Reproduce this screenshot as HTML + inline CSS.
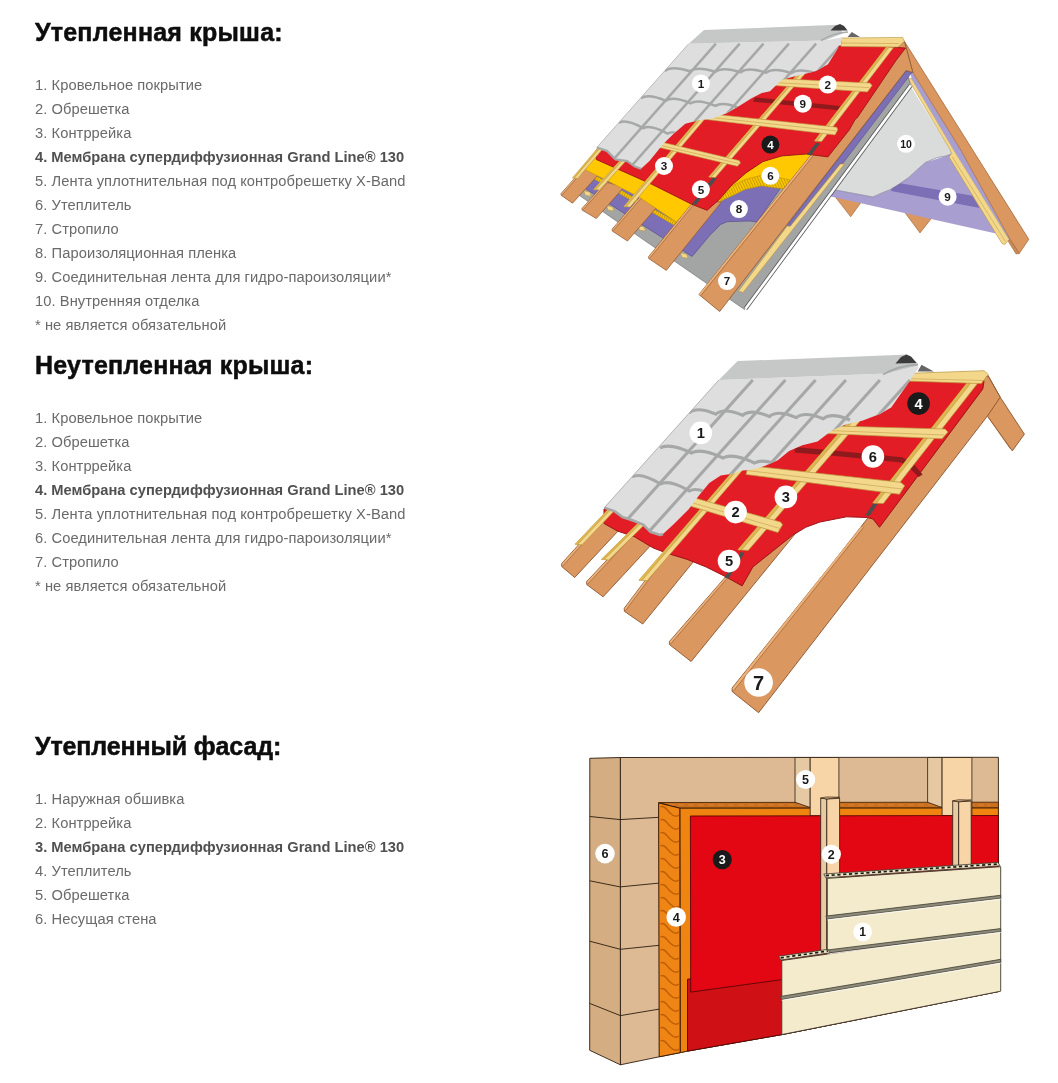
<!DOCTYPE html>
<html><head><meta charset="utf-8"><style>
html,body{margin:0;padding:0;background:#fff;}
body{width:1058px;height:1083px;position:relative;overflow:hidden;font-family:"Liberation Sans",sans-serif;}
.h{position:absolute;left:35px;font-weight:bold;font-size:25px;line-height:30px;color:#0d0d0d;white-space:nowrap;-webkit-text-stroke:0.5px #0d0d0d;will-change:transform;}
.l{position:absolute;left:35px;font-size:14.7px;line-height:24px;color:#6a6a6a;letter-spacing:0.07px;white-space:nowrap;will-change:transform;}
.l b{color:#505050;letter-spacing:0;}
svg{position:absolute;left:0;top:0;}
svg text{font-family:"Liberation Sans",sans-serif;}
</style></head><body>
<div class="h" style="top:17px;letter-spacing:0.22px">Утепленная крыша:</div>
<div class="l" style="top:73px"><div>1. Кровельное покрытие</div><div>2. Обрешетка</div><div>3. Контррейка</div><div><b>4. Мембрана супердиффузионная Grand Line® 130</b></div><div>5. Лента уплотнительная под контробрешетку X-Band</div><div>6. Утеплитель</div><div>7. Стропило</div><div>8. Пароизоляционная пленка</div><div>9. Соединительная лента для гидро-пароизоляции*</div><div>10. Внутренняя отделка</div><div>* не является обязательной</div></div>

<div class="h" style="top:350px;letter-spacing:0.2px">Неутепленная крыша:</div>
<div class="l" style="top:406px"><div>1. Кровельное покрытие</div><div>2. Обрешетка</div><div>3. Контррейка</div><div><b>4. Мембрана супердиффузионная Grand Line® 130</b></div><div>5. Лента уплотнительная под контробрешетку X-Band</div><div>6. Соединительная лента для гидро-пароизоляции*</div><div>7. Стропило</div><div>* не является обязательной</div></div>

<div class="h" style="top:730.5px;letter-spacing:-0.12px">Утепленный фасад:</div>
<div class="l" style="top:786.5px"><div>1. Наружная обшивка</div><div>2. Контррейка</div><div><b>3. Мембрана супердиффузионная Grand Line® 130</b></div><div>4. Утеплитель</div><div>5. Обрешетка</div><div>6. Несущая стена</div></div>

<svg width="1058" height="1083" viewBox="0 0 1058 1083">
<polygon points="833.0,194.0 862.0,201.0 850.7,216.8" fill="#DA975F" stroke="#9c6236" stroke-width="0.6" stroke-linejoin="round" />
<polygon points="903.0,210.0 933.0,216.5 920.0,232.9" fill="#DA975F" stroke="#9c6236" stroke-width="0.6" stroke-linejoin="round" />
<polygon points="829.8,196.3 835.1,189.9 872.9,197.0 889.5,189.9 908.4,177.7 925.4,162.5 946.2,155.9 953.7,153.1 996.0,233.5 940.0,221.1" fill="#A99ED0" />
<polygon points="893.0,182.0 972.5,195.7 979.6,207.9 891.0,191.0" fill="#7D6FB6" />
<polygon points="910.5,86.0 950.3,150.0 953.7,153.1 946.2,155.9 936.7,157.8 925.4,162.5 917.8,169.1 908.4,177.7 898.9,184.3 889.5,189.9 880.0,193.7 872.9,197.0 835.1,189.9 834.0,191.0" fill="#DADBDB" />
<polyline points="953.7,153.1 946.2,155.9 936.7,157.8 925.4,162.5 917.8,169.1 908.4,177.7 898.9,184.3 889.5,189.9 880.0,193.7 872.9,197.0 835.1,189.9" fill="none" stroke="#6f6f8a" stroke-width="0.6" stroke-linejoin="round"/>
<polygon points="908.0,78.8 911.5,78.5 953.7,150.0 1009.0,239.3 1005.0,244.5 1002.0,243.4 949.0,157.0 951.5,153.6 950.3,150.0" fill="#F3D88C" stroke="#B8923a" stroke-width="0.6" stroke-linejoin="round" />
<polyline points="952.3,157.0 1005.5,241.5" fill="none" stroke="#B8923a" stroke-width="0.5" stroke-linejoin="round"/>
<polygon points="910.6,72.5 912.9,72.5 960.8,150.0 1010.0,239.3 1009.0,239.3 953.7,150.0 911.5,78.5" fill="#A99ED0" />
<polygon points="904.4,41.3 1028.8,239.3 1019.2,253.6 1010.0,239.3 960.8,150.0 912.9,72.5" fill="#DA975F" stroke="#9c6236" stroke-width="0.7" stroke-linejoin="round" />
<polygon points="1010.0,239.3 1019.2,253.6 1016.0,254.0 1008.0,241.0" fill="#C98A55" stroke="#9c6236" stroke-width="0.5" stroke-linejoin="round" />
<polygon points="578.0,194.5 744.5,309.5 910.5,84.5 906.0,70.0 700.0,70.0 590.0,170.0" fill="#A3A4A4" stroke="#6a6a6a" stroke-width="0.6" stroke-linejoin="round" />
<line x1="745.5" y1="308.8" x2="910.8" y2="85.2" stroke="#555" stroke-width="4.2"/>
<line x1="745.5" y1="308.8" x2="910.8" y2="85.2" stroke="#fff" stroke-width="2.6"/>
<polygon points="583.8,190.7 589.8,192.2 591.3,196.2 585.3,195.2" fill="#F3D88C" stroke="#B8923a" stroke-width="0.5" stroke-linejoin="round" />
<polygon points="606.5,205.5 612.5,207.0 614.0,211.0 608.0,210.0" fill="#F3D88C" stroke="#B8923a" stroke-width="0.5" stroke-linejoin="round" />
<polygon points="638.0,225.6 644.0,227.1 645.5,231.1 639.5,230.1" fill="#F3D88C" stroke="#B8923a" stroke-width="0.5" stroke-linejoin="round" />
<polygon points="680.5,252.8 686.5,254.3 688.0,258.3 682.0,257.3" fill="#F3D88C" stroke="#B8923a" stroke-width="0.5" stroke-linejoin="round" />
<polygon points="586.0,189.0 692.0,256.5 698.0,249.4 709.4,235.8 720.7,224.4 727.5,221.6 750.0,221.0 757.0,222.0 800.0,160.0 880.0,75.0 700.0,80.0 586.0,175.0" fill="#7D6FB6" stroke="#4e4386" stroke-width="0.6" stroke-linejoin="round" />
<polygon points="906.1,70.6 912.1,72.3 842.7,163.5 840.5,163.8 790.5,226.5 787.3,225.4" fill="#7D6FB6" stroke="#4e4386" stroke-width="0.5" stroke-linejoin="round" />
<polygon points="840.3,164.0 844.5,164.0 743.0,292.5 738.4,291.2 787.3,226.0 790.3,226.2" fill="#F3D88C" stroke="#B8923a" stroke-width="0.6" stroke-linejoin="round" />
<defs><pattern id="hat1" width="2.4" height="6" patternUnits="userSpaceOnUse" patternTransform="rotate(25)"><rect width="2.4" height="6" fill="#F9C800"/><line x1="0.5" y1="0" x2="0.5" y2="6" stroke="#C79600" stroke-width="0.9"/></pattern><pattern id="hat2" width="2.6" height="6" patternUnits="userSpaceOnUse" patternTransform="rotate(-25)"><rect width="2.6" height="6" fill="#F9C800"/><line x1="0.5" y1="0" x2="0.5" y2="6" stroke="#C79600" stroke-width="0.9"/></pattern></defs>
<polygon points="586.0,170.0 676.3,222.0 676.3,226.5 587.2,175.0" fill="url(#hat1)" stroke="#B58A00" stroke-width="0.4" stroke-linejoin="round" />
<polygon points="561.1,193.5 561.1,195.3 572.5,203.2 600.0,173.0 588.0,163.0" fill="#DA975F" stroke="#8a5530" stroke-width="0.7" stroke-linejoin="round" />
<polygon points="561.4,193.7 588.2,163.0 590.0,163.0 562.0,195.0" fill="#EDB27A" />
<polyline points="562.0,195.0 590.0,163.0" fill="none" stroke="#8a5530" stroke-width="0.6" stroke-linejoin="round"/>
<polygon points="582.1,208.3 582.1,210.1 596.3,218.5 624.0,187.0 606.0,182.0" fill="#DA975F" stroke="#8a5530" stroke-width="0.7" stroke-linejoin="round" />
<polygon points="582.4,208.5 606.2,182.0 608.0,182.0 583.0,209.8" fill="#EDB27A" />
<polyline points="583.0,209.8 608.0,182.0" fill="none" stroke="#8a5530" stroke-width="0.6" stroke-linejoin="round"/>
<polygon points="612.2,229.0 612.2,231.0 627.5,241.0 656.0,208.0 640.0,197.0" fill="#DA975F" stroke="#8a5530" stroke-width="0.7" stroke-linejoin="round" />
<polygon points="612.5,229.2 640.2,197.0 642.2,197.0 613.2,230.7" fill="#EDB27A" />
<polyline points="613.2,230.7 642.2,197.0" fill="none" stroke="#8a5530" stroke-width="0.6" stroke-linejoin="round"/>
<polygon points="586.0,170.0 608.8,181.4 639.4,197.3 676.3,222.0 700.0,200.0 720.7,201.8 729.8,195.0 741.0,190.0 753.4,184.3 772.3,185.2 779.9,188.0 788.0,188.0 800.0,170.0 830.0,130.0 700.0,100.0 590.0,160.0" fill="#FFC800" />
<polyline points="586.0,170.0 608.8,181.4 639.4,197.3 676.3,222.0" fill="none" stroke="#C89A00" stroke-width="0.6" stroke-linejoin="round"/>
<polygon points="720.5,200.0 730.9,186.5 745.0,179.5 761.3,175.3 781.2,178.0 790.0,180.0 790.0,190.0 779.9,188.5 761.3,185.9 745.0,189.5 733.0,195.5 720.3,201.1" fill="url(#hat2)" stroke="#B58A00" stroke-width="0.5" stroke-linejoin="round" />
<polygon points="648.7,256.5 648.7,258.5 666.3,270.4 721.5,202.0 694.0,201.0" fill="#DA975F" stroke="#8a5530" stroke-width="0.7" stroke-linejoin="round" />
<polygon points="649.0,256.7 694.2,201.0 696.4,201.0 649.8,258.2" fill="#EDB27A" />
<polyline points="649.8,258.2 696.4,201.0" fill="none" stroke="#8a5530" stroke-width="0.6" stroke-linejoin="round"/>
<polygon points="698.9,294.5 719.7,311.5 906.1,70.6 912.9,72.5 904.4,41.3 895.0,48.0 810.6,155.4" fill="#DA975F" stroke="#8a5530" stroke-width="0.8" stroke-linejoin="round" />
<polygon points="698.9,294.5 810.6,155.4 813.4,155.4 700.5,295.5" fill="#EDB27A" />
<polyline points="700.5,296.0 813.4,155.4" fill="none" stroke="#8a5530" stroke-width="0.6" stroke-linejoin="round"/>
<polygon points="596.3,159.5 630.0,174.5 652.7,184.7 691.2,204.0 707.1,210.3 719.4,199.4 730.7,186.2 745.9,172.9 762.9,161.6 781.8,155.9 806.4,154.0 827.9,156.9 849.2,130.0 855.5,118.7 857.2,117.8 896.3,60.0 905.5,48.1 880.0,46.0 700.0,46.0 596.0,150.0" fill="#E31D25" stroke="#9a1418" stroke-width="0.9" stroke-linejoin="round" />
<polygon points="754.9,97.4 840.0,106.0 838.2,110.2 753.0,101.7" fill="#8E1A1E" />
<polygon points="692.0,204.0 713.0,177.0 717.0,178.0 696.0,205.0" fill="#4d4d4d" />
<polygon points="807.0,154.5 816.0,143.0 820.0,143.5 811.0,155.5" fill="#4d4d4d" />
<polygon points="572.4,178.0 577.6,178.6 605.6,145.6 600.4,145.0" fill="#F3D88C" stroke="#B8923a" stroke-width="0.6" stroke-linejoin="round" />
<polygon points="572.4,178.0 574.3,178.3 602.3,145.3 600.4,145.0" fill="#DDB550" />
<polyline points="574.3,178.3 602.3,145.3" fill="none" stroke="#B8923a" stroke-width="0.5" stroke-linejoin="round"/>
<polygon points="593.6,189.5 599.4,190.1 630.9,155.6 625.1,155.0" fill="#F3D88C" stroke="#B8923a" stroke-width="0.6" stroke-linejoin="round" />
<polygon points="593.6,189.5 595.7,189.8 627.2,155.3 625.1,155.0" fill="#DDB550" />
<polyline points="595.7,189.8 627.2,155.3" fill="none" stroke="#B8923a" stroke-width="0.5" stroke-linejoin="round"/>
<polygon points="623.9,206.5 630.1,207.1 706.1,117.6 699.9,117.0" fill="#F3D88C" stroke="#B8923a" stroke-width="0.6" stroke-linejoin="round" />
<polygon points="623.9,206.5 626.1,206.8 702.1,117.3 699.9,117.0" fill="#DDB550" />
<polyline points="626.1,206.8 702.1,117.3" fill="none" stroke="#B8923a" stroke-width="0.5" stroke-linejoin="round"/>
<polygon points="708.7,177.0 715.3,177.6 805.3,73.6 798.7,73.0" fill="#F3D88C" stroke="#B8923a" stroke-width="0.6" stroke-linejoin="round" />
<polygon points="708.7,177.0 711.1,177.3 801.1,73.3 798.7,73.0" fill="#DDB550" />
<polyline points="711.1,177.3 801.1,73.3" fill="none" stroke="#B8923a" stroke-width="0.5" stroke-linejoin="round"/>
<polygon points="814.4,141.0 821.6,141.6 893.6,47.6 886.4,47.0" fill="#F3D88C" stroke="#B8923a" stroke-width="0.6" stroke-linejoin="round" />
<polygon points="814.4,141.0 817.0,141.3 889.0,47.3 886.4,47.0" fill="#DDB550" />
<polyline points="817.0,141.3 889.0,47.3" fill="none" stroke="#B8923a" stroke-width="0.5" stroke-linejoin="round"/>
<polygon points="841.0,38.0 902.7,37.4 904.4,41.3 898.1,47.0 841.0,46.5" fill="#F3D88C" stroke="#B8923a" stroke-width="0.6" stroke-linejoin="round" />
<polygon points="776.0,78.5 870.0,83.0 872.1,85.5 867.4,91.9 774.0,85.5" fill="#F3D88C" stroke="#B8923a" stroke-width="0.6" stroke-linejoin="round" />
<polygon points="700.0,112.8 836.8,127.2 837.7,129.8 835.1,134.9 698.0,118.5" fill="#F3D88C" stroke="#B8923a" stroke-width="0.6" stroke-linejoin="round" />
<polygon points="655.0,140.5 739.2,160.6 740.5,163.0 737.4,166.3 653.0,146.0" fill="#F3D88C" stroke="#B8923a" stroke-width="0.6" stroke-linejoin="round" />
<polyline points="841.0,43.0 899.0,43.6" fill="none" stroke="#B8923a" stroke-width="0.5" stroke-linejoin="round"/>
<polyline points="775.0,82.6 869.0,87.6" fill="none" stroke="#B8923a" stroke-width="0.5" stroke-linejoin="round"/>
<polyline points="699.0,116.2 836.0,130.8" fill="none" stroke="#B8923a" stroke-width="0.5" stroke-linejoin="round"/>
<polyline points="654.0,143.8 739.0,163.6" fill="none" stroke="#B8923a" stroke-width="0.5" stroke-linejoin="round"/>
<clipPath id="tc1"><polygon points="688.7,43.7 824.6,40.4 843,37 836.5,50.6 828,64.2 816,71 802.5,74.4 782,79.5 770,91.3 761.8,93 751.6,98.2 738,106.7 726.1,113.5 712.5,118.6 698.9,120.3 685.3,123.7 673.4,133.9 663.2,144.1 649.5,161.1 641,168.8 634.2,166.2 627.4,161.1 615.5,159.4 607,150.9 596.8,147.5"/></clipPath>
<polygon points="688.7,43.7 824.6,40.4 843.0,37.0 836.5,50.6 828.0,64.2 816.0,71.0 802.5,74.4 782.0,79.5 770.0,91.3 761.8,93.0 751.6,98.2 738.0,106.7 726.1,113.5 712.5,118.6 698.9,120.3 685.3,123.7 673.4,133.9 663.2,144.1 649.5,161.1 641.0,168.8 634.2,166.2 627.4,161.1 615.5,159.4 607.0,150.9 596.8,147.5" fill="#DEDEDE" />
<g clip-path="url(#tc1)" stroke="#A6A7A7" stroke-width="2.5" fill="none"><line x1="715.9" y1="43.7" x2="592.0" y2="183.7"/><line x1="739.7" y1="43.7" x2="615.8000000000001" y2="183.7"/><line x1="763.5" y1="43.7" x2="639.6" y2="183.7"/><line x1="788.9" y1="43.7" x2="665.0" y2="183.7"/><line x1="816.1" y1="43.7" x2="692.2" y2="183.7"/><line x1="842" y1="43.7" x2="718.1" y2="183.7"/><path d="M664.6,70.9 C669.7,67.1 679.8,68.0 689.9,71.3 C695.0,67.6 705.1,68.5 715.3,71.8 C720.4,68.0 730.5,68.9 740.6,72.2 C745.7,68.5 755.8,69.3 766.0,72.7 C771.0,68.9 781.2,69.8 791.3,73.1 C796.4,69.4 806.5,70.2 816.7,73.6 C821.7,69.8 831.9,70.7 842.0,74.0"/><path d="M641.0,98.2 C646.0,94.9 655.9,96.6 665.8,100.8 C670.8,97.4 680.7,99.1 690.6,103.3 C695.6,100.0 705.5,101.7 715.4,105.9 C720.4,102.5 730.3,104.3 740.2,108.4 C745.2,105.1 755.1,106.8 765.0,111.0"/><path d="M618.9,122.8 C623.8,120.0 633.5,122.9 643.3,128.2 C648.1,125.4 657.9,128.3 667.6,133.6 C672.5,130.8 682.3,133.7 692.0,139.0"/></g>
<polyline points="641.0,168.8 634.2,166.2 627.4,161.1 615.5,159.4 607.0,150.9 596.8,147.5" fill="none" stroke="#A6A7A7" stroke-width="2.2" stroke-linejoin="round"/>
<polyline points="596.8,147.5 688.7,43.7" fill="none" stroke="#A3A4A4" stroke-width="0.7" stroke-linejoin="round"/>
<polygon points="704.0,30.1 838.0,24.8 843.0,33.6 824.6,40.4 688.7,43.7" fill="#C6C7C7" />
<path d="M821,40.5 Q834,32.5 848,32" stroke="#A9AAAA" stroke-width="1.6" fill="none"/>
<polygon points="830.5,30.6 835.0,26.0 840.0,24.0 844.0,26.0 847.6,30.5" fill="#3c3c3c" />
<polygon points="847.6,37.0 851.8,31.9 860.0,37.0" fill="#666" />
<circle cx="700.9" cy="83.4" r="9" fill="#fff"/><text x="700.9" y="87.6" font-size="11.7" fill="#1a1a1a" text-anchor="middle" font-weight="bold">1</text>
<circle cx="827.7" cy="84.6" r="9" fill="#fff"/><text x="827.7" y="88.8" font-size="11.7" fill="#1a1a1a" text-anchor="middle" font-weight="bold">2</text>
<circle cx="802.8" cy="103.7" r="9" fill="#fff"/><text x="802.8" y="107.9" font-size="11.7" fill="#1a1a1a" text-anchor="middle" font-weight="bold">9</text>
<circle cx="770.4" cy="144.6" r="9" fill="#1a1a1a"/><text x="770.4" y="148.8" font-size="11.7" fill="#fff" text-anchor="middle" font-weight="bold">4</text>
<circle cx="664" cy="166" r="9" fill="#fff"/><text x="664" y="170.2" font-size="11.7" fill="#1a1a1a" text-anchor="middle" font-weight="bold">3</text>
<circle cx="700.9" cy="189.3" r="9" fill="#fff"/><text x="700.9" y="193.5" font-size="11.7" fill="#1a1a1a" text-anchor="middle" font-weight="bold">5</text>
<circle cx="770.4" cy="175.8" r="9" fill="#fff"/><text x="770.4" y="180.0" font-size="11.7" fill="#1a1a1a" text-anchor="middle" font-weight="bold">6</text>
<circle cx="738.9" cy="209.1" r="9" fill="#fff"/><text x="738.9" y="213.3" font-size="11.7" fill="#1a1a1a" text-anchor="middle" font-weight="bold">8</text>
<circle cx="727" cy="281.1" r="9" fill="#fff"/><text x="727" y="285.3" font-size="11.7" fill="#1a1a1a" text-anchor="middle" font-weight="bold">7</text>
<circle cx="906" cy="143.8" r="9" fill="#fff"/><text x="906" y="147.6" font-size="10.5" fill="#1a1a1a" text-anchor="middle" font-weight="bold">10</text>
<circle cx="947.6" cy="196.7" r="9" fill="#fff"/><text x="947.6" y="200.9" font-size="11.7" fill="#1a1a1a" text-anchor="middle" font-weight="bold">9</text>

<polygon points="988.1,375.5 1000.2,397.2 1024.4,434.2 1012.3,450.9 987.4,416.1" fill="#DA975F" stroke="#8a5530" stroke-width="0.9" stroke-linejoin="round" />
<polyline points="1010.0,448.5 988.5,417.5" fill="none" stroke="#9c6236" stroke-width="0.6" stroke-linejoin="round"/>
<polygon points="561.7,563.5 561.7,566.5 574.7,577.5 633.0,515.0 610.0,510.0" fill="#DA975F" stroke="#8a5530" stroke-width="0.9" stroke-linejoin="round" />
<polygon points="562.0,563.7 610.2,510.0 612.5,510.0 562.8,566.0" fill="#EDB27A" />
<polyline points="562.8,566.0 612.5,510.0" fill="none" stroke="#8a5530" stroke-width="0.6" stroke-linejoin="round"/>
<polygon points="586.7,581.5 586.7,584.5 603.1,596.8 665.0,530.0 640.0,525.0" fill="#DA975F" stroke="#8a5530" stroke-width="0.9" stroke-linejoin="round" />
<polygon points="587.0,581.7 640.2,525.0 642.5,525.0 587.8,584.0" fill="#EDB27A" />
<polyline points="587.8,584.0 642.5,525.0" fill="none" stroke="#8a5530" stroke-width="0.6" stroke-linejoin="round"/>
<polygon points="624.3,608.2 624.3,611.2 642.7,624.0 707.0,545.0 675.0,541.0" fill="#DA975F" stroke="#8a5530" stroke-width="0.9" stroke-linejoin="round" />
<polygon points="624.6,608.4 675.2,541.0 677.5,541.0 625.4,610.8" fill="#EDB27A" />
<polyline points="625.4,610.8 677.5,541.0" fill="none" stroke="#8a5530" stroke-width="0.6" stroke-linejoin="round"/>
<polygon points="669.4,641.5 669.4,644.5 691.1,661.5 808.0,518.0 762.0,535.0" fill="#DA975F" stroke="#8a5530" stroke-width="0.9" stroke-linejoin="round" />
<polygon points="669.7,641.7 762.2,535.0 764.5,535.0 670.5,644.0" fill="#EDB27A" />
<polyline points="670.5,644.0 764.5,535.0" fill="none" stroke="#8a5530" stroke-width="0.6" stroke-linejoin="round"/>
<polygon points="732.1,688.0 732.1,691.5 758.6,712.7 987.4,416.1 1000.2,397.2 988.1,376.0 975.0,380.0 860.6,527.3 834.9,560.0" fill="#DA975F" stroke="#8a5530" stroke-width="0.9" stroke-linejoin="round" />
<polygon points="732.4,688.2 860.6,527.3 863.6,527.3 733.5,691.0" fill="#EDB27A" />
<polyline points="733.5,691.0 863.6,527.3" fill="none" stroke="#8a5530" stroke-width="0.6" stroke-linejoin="round"/>
<polygon points="604.0,509.0 604.1,523.5 617.4,531.0 634.4,536.7 653.3,548.0 668.4,553.7 687.3,559.4 706.2,567.0 725.1,576.4 742.1,585.9 752.8,567.0 772.6,551.2 792.5,535.3 805.7,527.3 820.0,522.0 846.5,516.8 867.6,517.5 873.0,519.0 879.5,527.3 982.8,388.9 984.0,381.0 900.0,380.0 720.0,385.0" fill="#E31D25" stroke="#9a1418" stroke-width="1.0" stroke-linejoin="round" />
<polygon points="794.8,447.0 833.2,450.5 902.0,457.3 912.6,462.5 922.6,474.5 918.6,477.0 909.0,467.5 901.0,462.5 833.0,455.8 794.8,452.5" fill="#8E1A1E" />
<polygon points="740.5,552.0 744.5,553.0 728.5,578.5 724.5,577.5" fill="#4d4d4d" />
<polygon points="873.5,503.0 877.5,504.0 869.5,516.0 865.5,515.0" fill="#4d4d4d" />
<polygon points="575.0,544.3 582.0,544.9 615.5,509.6 608.5,509.0" fill="#F3D88C" stroke="#B8923a" stroke-width="0.7" stroke-linejoin="round" />
<polygon points="575.0,544.3 577.5,544.6 611.0,509.3 608.5,509.0" fill="#DDB550" />
<polyline points="577.5,544.6 611.0,509.3" fill="none" stroke="#B8923a" stroke-width="0.5" stroke-linejoin="round"/>
<polygon points="601.3,559.4 608.7,560.0 648.7,520.6 641.3,520.0" fill="#F3D88C" stroke="#B8923a" stroke-width="0.7" stroke-linejoin="round" />
<polygon points="601.3,559.4 604.0,559.7 644.0,520.3 641.3,520.0" fill="#DDB550" />
<polyline points="604.0,559.7 644.0,520.3" fill="none" stroke="#B8923a" stroke-width="0.5" stroke-linejoin="round"/>
<polygon points="638.9,580.2 647.1,580.8 749.1,462.6 740.9,462.0" fill="#F3D88C" stroke="#B8923a" stroke-width="0.7" stroke-linejoin="round" />
<polygon points="638.9,580.2 641.9,580.5 743.9,462.3 740.9,462.0" fill="#DDB550" />
<polyline points="641.9,580.5 743.9,462.3" fill="none" stroke="#B8923a" stroke-width="0.5" stroke-linejoin="round"/>
<polygon points="737.8,549.8 748.2,550.4 862.2,418.6 851.8,418.0" fill="#F3D88C" stroke="#B8923a" stroke-width="0.7" stroke-linejoin="round" />
<polygon points="737.8,549.8 741.5,550.1 855.5,418.3 851.8,418.0" fill="#DDB550" />
<polyline points="741.5,550.1 855.5,418.3" fill="none" stroke="#B8923a" stroke-width="0.5" stroke-linejoin="round"/>
<polygon points="872.7,503.0 883.3,503.6 978.3,382.6 967.7,382.0" fill="#F3D88C" stroke="#B8923a" stroke-width="0.7" stroke-linejoin="round" />
<polygon points="872.7,503.0 876.5,503.3 971.5,382.3 967.7,382.0" fill="#DDB550" />
<polyline points="876.5,503.3 971.5,382.3" fill="none" stroke="#B8923a" stroke-width="0.5" stroke-linejoin="round"/>
<polygon points="905.0,373.5 984.3,370.7 988.1,374.5 981.3,383.6 905.0,381.0" fill="#F3D88C" stroke="#B8923a" stroke-width="0.7" stroke-linejoin="round" />
<polyline points="905.0,378.6 985.0,380.5" fill="none" stroke="#B8923a" stroke-width="0.5" stroke-linejoin="round"/>
<polygon points="828.0,425.8 945.0,429.0 948.0,432.0 942.0,438.8 826.0,433.5" fill="#F3D88C" stroke="#B8923a" stroke-width="0.7" stroke-linejoin="round" />
<polyline points="827.0,430.5 944.0,435.0" fill="none" stroke="#B8923a" stroke-width="0.5" stroke-linejoin="round"/>
<polygon points="748.0,465.5 900.7,482.3 904.7,485.7 899.4,494.3 746.0,474.5" fill="#F3D88C" stroke="#B8923a" stroke-width="0.7" stroke-linejoin="round" />
<polyline points="747.0,470.5 902.0,489.0" fill="none" stroke="#B8923a" stroke-width="0.5" stroke-linejoin="round"/>
<polygon points="693.0,497.5 780.6,522.0 782.6,524.7 777.9,532.6 690.6,506.2" fill="#F3D88C" stroke="#B8923a" stroke-width="0.7" stroke-linejoin="round" />
<polyline points="691.5,502.5 780.0,528.5" fill="none" stroke="#B8923a" stroke-width="0.5" stroke-linejoin="round"/>
<clipPath id="tc2"><polygon points="718.8,380 887.4,373.4 917.7,365.8 918.6,367.7 904.5,388.5 891.2,407.4 879.9,414 862.9,420.6 845.9,424.4 832.6,430.1 817.5,441.4 802.4,445.2 789.1,450.9 777.8,460.3 764.6,466 751.3,469.8 740,470.7 733.9,473.5 720.7,475.4 709.3,483 699.9,494.3 688.5,509.5 673.4,524.6 663,534 660.2,535 650.7,532.1 643.2,524.6 633.7,520.8 622.4,517 614.8,511.4 604.4,507.6"/></clipPath>
<polygon points="718.8,380.0 887.4,373.4 917.7,365.8 918.6,367.7 904.5,388.5 891.2,407.4 879.9,414.0 862.9,420.6 845.9,424.4 832.6,430.1 817.5,441.4 802.4,445.2 789.1,450.9 777.8,460.3 764.6,466.0 751.3,469.8 740.0,470.7 733.9,473.5 720.7,475.4 709.3,483.0 699.9,494.3 688.5,509.5 673.4,524.6 663.0,534.0 660.2,535.0 650.7,532.1 643.2,524.6 633.7,520.8 622.4,517.0 614.8,511.4 604.4,507.6" fill="#DEDEDE" />
<g clip-path="url(#tc2)" stroke="#A6A7A7" stroke-width="3.1" fill="none"><line x1="752.8" y1="380" x2="599.8" y2="550"/><line x1="785.4" y1="380" x2="632.4" y2="550"/><line x1="815.6" y1="380" x2="662.6" y2="550"/><line x1="845.9" y1="380" x2="692.9" y2="550"/><line x1="879.9" y1="380" x2="726.9" y2="550"/><line x1="910" y1="380" x2="757.0" y2="550"/><path d="M689.0,413.0 C694.4,408.3 705.1,409.6 715.8,414.2 C721.2,409.5 731.9,410.8 742.7,415.3 C748.0,410.6 758.8,412.0 769.5,416.5 C774.9,411.8 785.6,413.1 796.3,417.7 C801.7,413.0 812.4,414.3 823.2,418.8 C828.5,414.1 839.3,415.5 850.0,420.0"/><path d="M660.0,448.0 C666.3,444.1 678.9,446.9 691.5,453.0 C697.8,449.1 710.4,451.9 723.0,458.0 C729.3,454.1 741.9,456.9 754.5,463.0 C760.8,459.1 773.4,461.9 786.0,468.0"/><path d="M632.0,477.0 C637.7,473.4 649.2,477.1 660.7,484.0 C666.4,480.4 677.9,484.1 689.3,491.0 C695.1,487.4 706.5,491.1 718.0,498.0"/></g>
<polyline points="663.0,534.0 660.2,535.0 650.7,532.1 643.2,524.6 633.7,520.8 622.4,517.0 614.8,511.4 604.4,507.6" fill="none" stroke="#A6A7A7" stroke-width="2.6" stroke-linejoin="round"/>
<polyline points="604.4,507.6 718.8,380.0" fill="none" stroke="#A3A4A4" stroke-width="0.8" stroke-linejoin="round"/>
<polygon points="737.7,361.1 896.0,355.0 906.4,354.5 916.7,363.0 917.7,365.8 887.4,373.4 718.8,380.0" fill="#C6C7C7" />
<path d="M883,374.5 Q899,365.5 918,364.5" stroke="#A9AAAA" stroke-width="1.8" fill="none"/>
<polygon points="895.5,363.5 901.0,357.0 906.4,354.5 911.0,356.5 916.7,363.0" fill="#3c3c3c" />
<polygon points="917.7,371.5 921.5,364.8 933.8,371.5" fill="#666" />
<circle cx="700.8" cy="432.9" r="11.3" fill="#fff"/><text x="700.8" y="438.2" font-size="14.7" fill="#1a1a1a" text-anchor="middle" font-weight="bold">1</text>
<circle cx="735.6" cy="512.1" r="11.3" fill="#fff"/><text x="735.6" y="517.4" font-size="14.7" fill="#1a1a1a" text-anchor="middle" font-weight="bold">2</text>
<circle cx="785.9" cy="496.9" r="11.3" fill="#fff"/><text x="785.9" y="502.2" font-size="14.7" fill="#1a1a1a" text-anchor="middle" font-weight="bold">3</text>
<circle cx="918.6" cy="403.6" r="11.3" fill="#1a1a1a"/><text x="918.6" y="408.9" font-size="14.7" fill="#fff" text-anchor="middle" font-weight="bold">4</text>
<circle cx="729" cy="561.1" r="11.3" fill="#fff"/><text x="729" y="566.4" font-size="14.7" fill="#1a1a1a" text-anchor="middle" font-weight="bold">5</text>
<circle cx="872.9" cy="456.5" r="11.3" fill="#fff"/><text x="872.9" y="461.8" font-size="14.7" fill="#1a1a1a" text-anchor="middle" font-weight="bold">6</text>
<circle cx="758.6" cy="682.5" r="14.3" fill="#fff"/><text x="758.6" y="689.7" font-size="20.0" fill="#1a1a1a" text-anchor="middle" font-weight="bold">7</text>

<polygon points="620.3,757.5 998.4,757.3 998.4,991.5 781.8,1034.6 687.5,1051.1 659.2,1056.8 620.4,1064.8" fill="#DDBA93" stroke="#2b1d10" stroke-width="0.9" stroke-linejoin="round" />
<polygon points="589.8,758.3 620.3,757.5 620.4,1064.8 589.7,1050.3" fill="#D5AD83" stroke="#2b1d10" stroke-width="0.9" stroke-linejoin="round" />
<polyline points="589.8,816.5 620.1,819.6 659.0,817.3" fill="none" stroke="#2b1d10" stroke-width="0.9" stroke-linejoin="round"/>
<polyline points="589.8,880.8 620.1,886.9 659.0,883.1" fill="none" stroke="#2b1d10" stroke-width="0.9" stroke-linejoin="round"/>
<polyline points="589.7,941.2 620.4,949.3 659.2,945.3" fill="none" stroke="#2b1d10" stroke-width="0.9" stroke-linejoin="round"/>
<polyline points="589.7,1003.4 620.4,1015.6 659.2,1009.1" fill="none" stroke="#2b1d10" stroke-width="0.9" stroke-linejoin="round"/>
<polygon points="658.6,802.5 998.4,802.2 998.4,808.0 679.8,808.2" fill="#C96F1E" stroke="#4a2608" stroke-width="0.9" stroke-linejoin="round" />
<path d="M668,805 L990,805" stroke="#E08a3a" stroke-width="0.8" stroke-dasharray="6,4"/>
<polygon points="679.8,808.2 998.4,808.0 998.4,991.5 781.8,1034.6 687.5,1051.1 680.2,1052.7" fill="#EF8510" stroke="#4a2608" stroke-width="1.0" stroke-linejoin="round" />
<polygon points="658.6,802.9 679.8,808.2 680.2,1052.7 659.2,1056.8" fill="#EE8514" stroke="#3a1a05" stroke-width="1.0" stroke-linejoin="round" />
<clipPath id="ic3"><polygon points="658.6,802.9 679.8,808.2 680.2,1052.7 659.2,1056.8"/></clipPath><path clip-path="url(#ic3)" d="M660.5,807 C664,804.5 667,810 670,813 S676,817.5 679,815 M660.5,820 C664,817.5 667,823 670,826 S676,830.5 679,828 M660.5,833 C664,830.5 667,836 670,839 S676,843.5 679,841 M660.5,846 C664,843.5 667,849 670,852 S676,856.5 679,854 M660.5,859 C664,856.5 667,862 670,865 S676,869.5 679,867 M660.5,872 C664,869.5 667,875 670,878 S676,882.5 679,880 M660.5,885 C664,882.5 667,888 670,891 S676,895.5 679,893 M660.5,898 C664,895.5 667,901 670,904 S676,908.5 679,906 M660.5,911 C664,908.5 667,914 670,917 S676,921.5 679,919 M660.5,924 C664,921.5 667,927 670,930 S676,934.5 679,932 M660.5,937 C664,934.5 667,940 670,943 S676,947.5 679,945 M660.5,950 C664,947.5 667,953 670,956 S676,960.5 679,958 M660.5,963 C664,960.5 667,966 670,969 S676,973.5 679,971 M660.5,976 C664,973.5 667,979 670,982 S676,986.5 679,984 M660.5,989 C664,986.5 667,992 670,995 S676,999.5 679,997 M660.5,1002 C664,999.5 667,1005 670,1008 S676,1012.5 679,1010 M660.5,1015 C664,1012.5 667,1018 670,1021 S676,1025.5 679,1023 M660.5,1028 C664,1025.5 667,1031 670,1034 S676,1038.5 679,1036 M660.5,1041 C664,1038.5 667,1044 670,1047 S676,1051.5 679,1049 " stroke="#BF5E08" stroke-width="1.3" fill="none"/>
<polygon points="795.0,757.5 810.2,757.5 810.2,807.5 795.0,802.3" fill="#E4C9A2" stroke="#2b1d10" stroke-width="0.8" stroke-linejoin="round" />
<polygon points="810.2,757.5 838.9,757.5 838.9,815.8 810.2,815.8" fill="#F8D5A6" stroke="#2b1d10" stroke-width="0.8" stroke-linejoin="round" />
<polygon points="927.6,757.5 942.1,757.5 942.1,807.5 927.6,802.3" fill="#E4C9A2" stroke="#2b1d10" stroke-width="0.8" stroke-linejoin="round" />
<polygon points="942.1,757.5 971.9,757.5 971.9,815.5 942.1,815.5" fill="#F8D5A6" stroke="#2b1d10" stroke-width="0.8" stroke-linejoin="round" />
<polygon points="687.5,979.2 998.4,940.0 998.4,991.5 781.8,1034.6 687.5,1051.1" fill="#CF1116" stroke="#5a0505" stroke-width="0.9" stroke-linejoin="round" />
<polygon points="690.4,816.0 998.4,815.5 998.4,950.0 690.7,992.1" fill="#E30613" stroke="#5a0505" stroke-width="0.9" stroke-linejoin="round" />
<polygon points="820.7,798.0 826.8,799.0 826.8,952.0 820.7,952.0" fill="#E6CBA4" stroke="#2b1d10" stroke-width="0.8" stroke-linejoin="round" />
<polygon points="826.8,799.0 839.6,798.3 839.6,952.0 826.8,952.0" fill="#F8D5A6" stroke="#2b1d10" stroke-width="0.8" stroke-linejoin="round" />
<polygon points="820.7,798.0 826.7,796.9 839.6,797.2 826.8,799.0" fill="#C9A67E" stroke="#2b1d10" stroke-width="0.6" stroke-linejoin="round" />
<polygon points="952.7,800.8 958.7,801.8 958.7,868.0 952.7,868.0" fill="#E6CBA4" stroke="#2b1d10" stroke-width="0.8" stroke-linejoin="round" />
<polygon points="958.7,801.8 971.2,801.1 971.2,868.0 958.7,868.0" fill="#F8D5A6" stroke="#2b1d10" stroke-width="0.8" stroke-linejoin="round" />
<polygon points="952.7,800.8 958.7,799.7 971.2,800.0 958.7,801.8" fill="#C9A67E" stroke="#2b1d10" stroke-width="0.6" stroke-linejoin="round" />
<polygon points="781.8,960.5 1000.7,929.8 1000.7,991.2 781.8,1034.6" fill="#F4EBCD" stroke="#3d3d30" stroke-width="0.9" stroke-linejoin="round" />
<polygon points="827.3,878.4 1000.7,866.7 1000.7,929.8 827.3,951.4" fill="#F4EBCD" stroke="#3d3d30" stroke-width="0.9" stroke-linejoin="round" />
<polygon points="825.8,916.1 1000.7,895.3 1000.7,898.3 827.3,919.1" fill="#8c887a" stroke="#3d3d30" stroke-width="0.8" stroke-linejoin="round" />
<polyline points="827.3,919.9 1000.7,899.1" fill="none" stroke="#ffffff" stroke-width="0.8" stroke-linejoin="round"/>
<polygon points="825.8,950.2 1000.7,928.6 1000.7,931.6 827.3,953.2" fill="#8c887a" stroke="#3d3d30" stroke-width="0.8" stroke-linejoin="round" />
<polyline points="827.3,954.0 1000.7,932.4" fill="none" stroke="#ffffff" stroke-width="0.8" stroke-linejoin="round"/>
<polygon points="780.3,996.5 1000.7,959.3 1000.7,962.3 781.8,999.5" fill="#8c887a" stroke="#3d3d30" stroke-width="0.8" stroke-linejoin="round" />
<polyline points="781.8,1000.3 1000.7,963.1" fill="none" stroke="#ffffff" stroke-width="0.8" stroke-linejoin="round"/>
<polygon points="823.8,874.0 998.0,862.4 1000.0,865.8 825.8,877.8" fill="#EFE6C6" stroke="#3d3d30" stroke-width="0.8" stroke-linejoin="round" />
<line x1="825.8" y1="875.5999999999999" x2="998" y2="864.0" stroke="#1a1a1a" stroke-width="1.7" stroke-dasharray="3.2,2.6"/>
<polygon points="778.7,956.2 828.0,949.4 830.0,952.8 780.7,960.0" fill="#EFE6C6" stroke="#3d3d30" stroke-width="0.8" stroke-linejoin="round" />
<line x1="780.7" y1="957.8" x2="828" y2="951.0" stroke="#1a1a1a" stroke-width="1.7" stroke-dasharray="3.2,2.6"/>
<circle cx="605" cy="853.6" r="9.8" fill="#fff"/><text x="605" y="858.2" font-size="12.7" fill="#1a1a1a" text-anchor="middle" font-weight="bold">6</text>
<circle cx="722.2" cy="859.6" r="9.6" fill="#1a1a1a"/><text x="722.2" y="864.1" font-size="12.5" fill="#fff" text-anchor="middle" font-weight="bold">3</text>
<circle cx="676.2" cy="917" r="9.8" fill="#fff"/><text x="676.2" y="921.6" font-size="12.7" fill="#1a1a1a" text-anchor="middle" font-weight="bold">4</text>
<circle cx="805.6" cy="779.5" r="9.6" fill="#fff"/><text x="805.6" y="784.0" font-size="12.5" fill="#1a1a1a" text-anchor="middle" font-weight="bold">5</text>
<circle cx="831.3" cy="854.3" r="9.6" fill="#fff"/><text x="831.3" y="858.8" font-size="12.5" fill="#1a1a1a" text-anchor="middle" font-weight="bold">2</text>
<circle cx="862.7" cy="931.8" r="9.4" fill="#fff"/><text x="862.7" y="936.2" font-size="12.2" fill="#1a1a1a" text-anchor="middle" font-weight="bold">1</text>

</svg>
</body></html>
